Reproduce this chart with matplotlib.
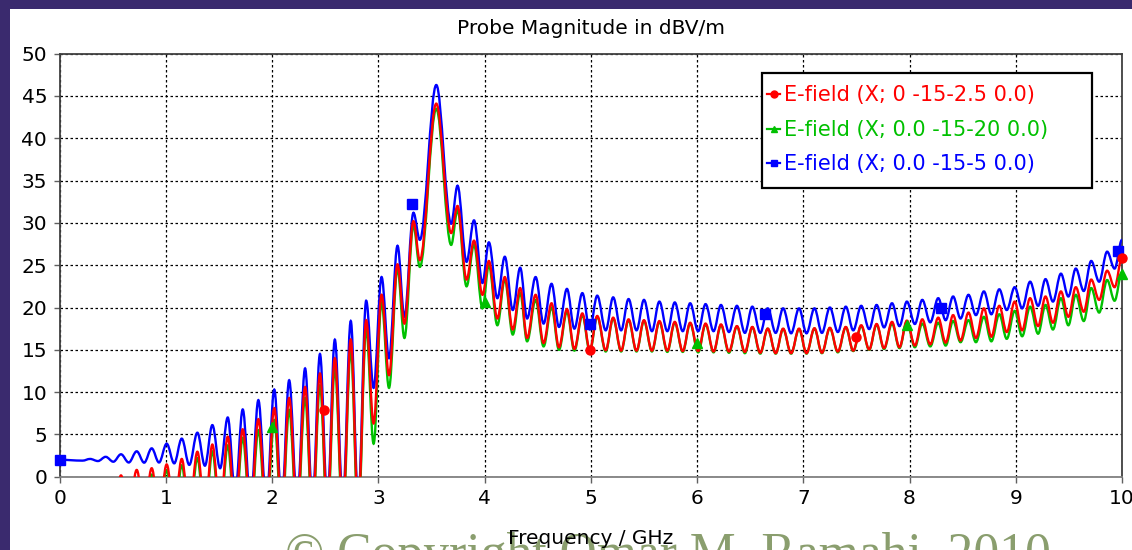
import matplotlib.pyplot as plt
from matplotlib.lines import Line2D
from matplotlib.patches import Rectangle, PathPatch
from matplotlib.path import Path

# ripple positions (GHz)
peak_f = [0.286, 0.433, 0.577, 0.725, 0.866, 1.007, 1.149, 1.296, 1.437, 1.582,
          1.723, 1.87, 2.02, 2.16, 2.31, 2.45, 2.59, 2.74, 2.885, 3.03,
          3.18, 3.33, 3.545, 3.745, 3.90, 4.04, 4.19, 4.335, 4.48, 4.63,
          4.775, 4.92, 5.06, 5.21, 5.355, 5.50, 5.645, 5.79, 5.935, 6.08,
          6.225, 6.375, 6.52, 6.665, 6.81, 6.96, 7.105, 7.25, 7.40, 7.545,
          7.69, 7.835, 7.975, 8.12, 8.27, 8.41, 8.555, 8.70, 8.845, 8.99,
          9.135, 9.28, 9.425, 9.565, 9.71, 9.86]
trough_f = [0.215, 0.36, 0.505, 0.65, 0.795, 0.935, 1.078, 1.22, 1.367, 1.51,
            1.652, 1.797, 1.945, 2.09, 2.235, 2.38, 2.52, 2.665, 2.81, 2.955,
            3.10, 3.245, 3.39, 3.685, 3.83, 3.98, 4.12, 4.265, 4.40, 4.555,
            4.70, 4.845, 4.99, 5.14, 5.285, 5.43, 5.575, 5.72, 5.865, 6.01,
            6.155, 6.30, 6.45, 6.595, 6.74, 6.885, 7.03, 7.175, 7.325, 7.47,
            7.62, 7.76, 7.905, 8.05, 8.195, 8.34, 8.48, 8.625, 8.77, 8.915,
            9.06, 9.21, 9.35, 9.495, 9.64, 9.785, 9.93]

# E-field (X; 0.0 -15-5 0.0)  -> blue
blue_start, blue_end = 2.0, 28.0
blue_peak = [2.1, 2.35, 2.65, 3.0, 3.35, 3.9, 4.5, 5.2, 6.1, 7.0,
             7.95, 9.05, 10.3, 11.4, 12.8, 14.5, 16.2, 18.4, 20.8, 23.6,
             27.3, 31.2, 46.3, 34.4, 30.3, 27.7, 26.0, 24.7, 23.6, 22.8,
             22.2, 21.7, 21.4, 21.2, 21.0, 20.9, 20.7, 20.6, 20.5, 20.4,
             20.3, 20.2, 20.1, 19.9, 19.9, 19.9, 19.9, 20.0, 20.1, 20.2,
             20.3, 20.5, 20.7, 20.9, 21.1, 21.3, 21.5, 21.9, 22.15, 22.4,
             23.05, 23.35, 24.0, 24.6, 25.5, 26.6]
blue_trough = [1.9, 1.85, 1.77, 1.68, 1.66, 1.68, 1.58, 1.4, 1.3, 1.0,
               -2, -3, -3, -3, -3, -3, -3, -3, -3, 10.5,
               14.0, 18.9, 28.0, 29.9, 25.4, 22.9, 21.1, 19.7, 18.7, 18.1,
               17.7, 17.5, 17.4, 17.3, 17.3, 17.3, 17.2, 17.2, 17.2, 17.2,
               17.2, 17.1, 17.0, 17.0, 17.0, 16.95, 16.95, 17.0, 17.1, 17.3,
               17.45, 17.65, 17.8, 18.05, 18.25, 18.5, 18.7, 19.1, 19.2, 19.7,
               19.9, 20.2, 20.7, 21.3, 21.95, 23.05, 24.6]

# E-field (X; 0 -15-2.5 0.0)  -> red
red_start, red_end = -6.0, 25.9
red_peak = [-4, -2, 0.15, 0.8, 1.0, 1.45, 2.1, 2.95, 3.8, 4.73,
            5.6, 6.8, 8.1, 9.3, 10.6, 12.2, 14.0, 16.2, 18.5, 21.5,
            25.1, 30.2, 44.1, 32.0, 27.9, 25.5, 23.6, 22.3, 21.5, 20.5,
            19.8, 19.3, 19.0, 18.8, 18.6, 18.5, 18.4, 18.3, 18.2, 18.1,
            18.0, 17.8, 17.7, 17.5, 17.5, 17.5, 17.55, 17.6, 17.7, 17.9,
            18.05, 18.3, 18.45, 18.6, 18.8, 19.1, 19.4, 19.9, 20.2, 20.7,
            21.1, 21.3, 21.9, 22.4, 23.3, 24.35]
red_trough = [-5, -5, -4, -4, -4, -4, -4, -4, -4, -4,
              -4, -4, -4, -4, -4, -4, -4, -4, -4, 6.3,
              12.0, 18.1, 25.6, 28.8, 23.3, 21.5, 18.7, 17.4, 16.4, 15.8,
              15.3, 15.1, 15.0, 14.95, 14.9, 14.9, 14.9, 14.9, 14.85, 14.85,
              14.8, 14.8, 14.75, 14.65, 14.6, 14.6, 14.6, 14.65, 14.8, 14.9,
              15.05, 15.2, 15.3, 15.5, 15.65, 15.85, 16.1, 16.4, 16.55, 17.1,
              17.3, 17.8, 18.2, 18.9, 19.5, 20.9, 22.4]

# E-field (X; 0.0 -15-20 0.0)  -> green
green_start, green_end = -6.0, 24.2
green_peak = [-5, -4, -2, -0.5, 0.25, 0.8, 1.35, 2.2, 3.0, 3.7,
              4.6, 5.5, 6.7, 7.9, 9.3, 10.8, 12.8, 15.0, 17.5, 20.6,
              24.6, 29.7, 43.5, 31.5, 27.4, 25.0, 23.3, 21.7, 20.9, 20.0,
              19.5, 19.1, 18.9, 18.7, 18.5, 18.4, 18.3, 18.2, 18.1, 18.0,
              17.9, 17.75, 17.65, 17.5, 17.45, 17.45, 17.5, 17.55, 17.65, 17.8,
              17.95, 18.1, 18.3, 18.1, 18.2, 18.4, 18.5, 18.9, 19.2, 19.6,
              20.1, 20.3, 21.1, 21.5, 22.3, 23.25]
green_trough = [-6, -6, -5, -5, -5, -5, -5, -5, -5, -5,
                -5, -5, -5, -5, -5, -5, -5, -5, -5, 3.9,
                10.5, 16.4, 24.8, 27.4, 22.5, 19.9, 17.9, 16.8, 16.0, 15.4,
                15.0, 14.9, 14.8, 14.8, 14.8, 14.8, 14.8, 14.75, 14.75, 14.7,
                14.7, 14.65, 14.6, 14.55, 14.55, 14.55, 14.55, 14.6, 14.7, 14.85,
                15.0, 15.1, 15.2, 15.3, 15.4, 15.5, 15.9, 15.9, 16.0, 16.3,
                16.6, 16.9, 17.4, 17.9, 18.4, 19.4, 20.8]

# curve markers
blue_mark_f = [0.0, 3.32, 4.99, 6.64, 8.30, 9.96]
blue_mark_v = [2.0, 32.2, 18.1, 19.2, 19.9, 26.7]
red_mark_f = [2.49, 4.99, 7.50, 10.0]
red_mark_v = [7.85, 15.0, 16.5, 25.8]
green_mark_f = [2.0, 4.0, 6.0, 7.98, 10.0]
green_mark_v = [5.9, 20.7, 15.8, 17.9, 24.0]

labels = ['E-field (X; 0 -15-2.5 0.0)', 'E-field (X; 0.0 -15-20 0.0)',
          'E-field (X; 0.0 -15-5 0.0)']
RED, GREEN, BLUE = '#ff0000', '#00c000', '#0000ff'


def build(start, troughs, peaks, end):
    xs, ys = [0.0], [start]
    for i in range(len(peaks)):
        xs += [trough_f[i], peak_f[i]]
        ys += [troughs[i], peaks[i]]
    xs += [trough_f[-1], 10.0]
    ys += [troughs[-1], end]
    return xs, ys


# smooth curve through the extremes: flat tangent at every peak / trough
def ripple_path(xs, ys, h=0.36):
    verts = [(xs[0], ys[0])]
    codes = [Path.MOVETO]
    for i in range(1, len(xs)):
        dx = xs[i] - xs[i - 1]
        verts += [(xs[i - 1] + h * dx, ys[i - 1]), (xs[i] - h * dx, ys[i]), (xs[i], ys[i])]
        codes += [Path.CURVE4] * 3
    return Path(verts, codes)


fig = plt.figure(figsize=(11.32, 5.5), dpi=100, facecolor='#3a2a6e')
fig.patches.append(Rectangle((10 / 1132, 0), 1, 1 - 9 / 550, transform=fig.transFigure,
                             facecolor='white', edgecolor='none', zorder=-3))
fig.text(285 / 1132, -0.035, '\u00a9 Copyright Omar M. Ramahi, 2010', family='Liberation Serif',
         fontsize=37.2, color='#8a9e6e', ha='left', va='baseline', zorder=-2)

ax = fig.add_axes([59.7 / 1132, 1 - 476.7 / 550, (1122 - 59.7) / 1132, 423 / 550])

for start, tr, pk, end, col in [(blue_start, blue_trough, blue_peak, blue_end, BLUE),
                                (green_start, green_trough, green_peak, green_end, GREEN),
                                (red_start, red_trough, red_peak, red_end, RED)]:
    xs, ys = build(start, tr, pk, end)
    ax.add_patch(PathPatch(ripple_path(xs, ys), fill=False, edgecolor=col, lw=1.7, zorder=3))

ax.plot(blue_mark_f, blue_mark_v, 's', color=BLUE, ms=7, clip_on=False, zorder=4)
ax.plot(green_mark_f, green_mark_v, '^', color=GREEN, ms=7, clip_on=False, zorder=4)
ax.plot(red_mark_f, red_mark_v, 'o', color=RED, ms=6.5, clip_on=False, zorder=4)

ax.set_xlim(0, 10)
ax.set_ylim(0, 50)
ax.set_xticks(range(0, 11))
ax.set_yticks(range(0, 51, 5))
ax.grid(True, color='black', linestyle=(0, (2, 2)), lw=0.9)
ax.tick_params(direction='out', length=4, width=1, colors='#606060', labelcolor='black',
               labelsize=14.5, pad=5)
for side in ['left', 'top', 'right']:
    ax.spines[side].set_color('#404040')
ax.spines['bottom'].set_color('#808080')
for s in ax.spines.values():
    s.set_linewidth(1.3)

ax.set_title('Probe Magnitude in dBV/m', fontsize=14.5, pad=14)
ax.set_xlabel('Frequency / GHz', fontsize=14.5, labelpad=15)

# legend box (white, black frame) and entries
ax.add_patch(Rectangle((0.6611, 0.6825), 0.9718 - 0.6611, 0.9544 - 0.6825,
                       transform=ax.transAxes, facecolor='white', edgecolor='black',
                       lw=1.6, zorder=5))
handles = [Line2D([], [], color=RED, marker='o', ms=5, lw=1.6),
           Line2D([], [], color=GREEN, marker='^', ms=5, lw=1.6),
           Line2D([], [], color=BLUE, marker='s', ms=5, lw=1.6)]
leg = ax.legend(handles, labels, loc='upper left', bbox_to_anchor=(0.6658, 0.9253),
                borderaxespad=0, fontsize=15, handlelength=0.63, handletextpad=0.2,
                labelspacing=0.7, borderpad=0, frameon=False)
leg.set_zorder(6)
for txt, col in zip(leg.get_texts(), [RED, GREEN, BLUE]):
    txt.set_color(col)

fig.savefig('out.png', dpi=100, facecolor=fig.get_facecolor())
